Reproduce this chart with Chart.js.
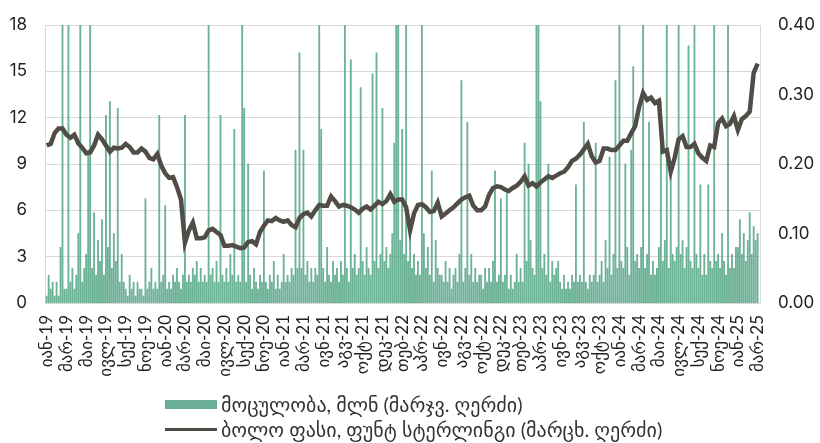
<!DOCTYPE html>
<html>
<head>
<meta charset="utf-8">
<script src="https://cdn.jsdelivr.net/npm/chart.js@4"></script>
<style>
  body { margin: 0; background: #fff; }
  #wrap { position: relative; width: 820px; height: 443px; overflow: hidden; }
  #legend { position: absolute; left: 165px; top: 392px; font: 20px Lato, "DejaVu Sans", sans-serif; color: #333; }
  .row { display: flex; align-items: center; height: 25px; white-space: nowrap; }
  .sw { width: 52px; height: 9px; background: #6aae95; margin-right: 4px; }
  .ln { width: 52px; height: 3px; background: #4f4d46; margin-right: 4px; }
</style>
</head>
<body>
<div id="wrap">
  <canvas id="chart"></canvas>
  <div id="legend"></div>
</div>
<script>
// tick labels, one every 5 price points
const tickLabels = ['იან-19','მარ-19','მაი-19','ივლ-19','სექ-19','ნოე-19','იან-20','მარ-20','მაი-20','ივლ-20','სექ-20','ნოე-20',
  'იან-21','მარ-21','ივნ-21','აგვ-21','ოქტ-21','დეკ-21','თებ-22','აპრ-22','ივნ-22','აგვ-22','ოქტ-22','დეკ-22',
  'თებ-23','აპრ-23','ივნ-23','აგვ-23','ოქტ-23','იან-24','მარ-24','მაი-24','ივლ-24','სექ-24','ნოე-24','იან-25','მარ-25'];
const pointsPerLabel = 5;
const barsPerPoint = 2;

const seriesNames = ['მოცულობა, მლნ (მარჯვ. ღერძი)', 'ბოლო ფასი, ფუნტ სტერლინგი (მარცხ. ღერძი)'];

// closing price, GBP (left axis)
const price = [
  10.2,10.3,11.0,11.3,11.3, 10.9,10.7,10.9,10.35,10.05, 9.7,9.75,10.2,10.9,10.6, 10.2,9.8,10.05,10.0,10.05,
  10.3,10.1,9.75,9.75,10.0, 9.8,9.4,9.3,9.65,8.9, 8.4,8.1,8.15,7.5,6.7, 3.9,4.7,5.2,4.2,4.2,
  4.25,4.7,4.8,4.6,4.4, 3.7,3.7,3.75,3.65,3.55, 3.6,3.95,4.0,3.8,4.6, 5.0,5.35,5.3,5.5,5.35,
  5.25,5.35,5.05,4.9,5.5, 5.75,5.85,5.6,6.0,6.35, 6.3,6.3,6.9,6.6,6.25, 6.35,6.3,6.2,6.05,5.85,
  6.1,6.25,6.05,6.3,6.55, 6.4,6.6,7.05,6.55,6.7, 6.7,6.2,4.7,5.8,6.35, 6.4,6.2,5.9,5.95,6.5,
  5.6,5.8,6.0,6.2,6.45, 6.7,6.85,6.95,6.3,6.0, 6.0,6.25,7.0,7.45,7.55, 7.5,7.35,7.25,7.45,7.6,
  7.85,8.2,7.6,7.75,7.55, 7.8,8.0,8.2,8.1,8.25, 8.4,8.5,8.8,9.2,9.35, 9.6,9.95,10.3,9.5,9.1,
  9.2,10.0,10.0,9.9,9.9, 10.2,10.5,10.5,11.0,11.45, 12.7,13.6,13.15,13.3,12.95, 13.1,9.8,9.9,8.5,9.4,
  10.6,10.8,10.1,10.1,10.3, 9.7,9.4,9.2,10.2,10.1, 11.65,11.95,11.45,11.6,12.1, 11.2,11.9,12.1,12.4,14.9,
  15.5
];

// traded volume, mln (right axis); tallest spikes run past the top of the axis
const volume = [
  0.01,0.04,0.02,0.03,0.01,0.03,0.01,0.08,0.50,0.02,
  0.02,0.50,0.03,0.05,0.02,0.04,0.10,0.50,0.03,0.05,
  0.07,0.22,0.50,0.05,0.13,0.04,0.09,0.06,0.12,0.04,
  0.27,0.08,0.29,0.05,0.10,0.06,0.28,0.03,0.07,0.03,
  0.02,0.01,0.04,0.02,0.03,0.01,0.03,0.02,0.02,0.01,
  0.15,0.02,0.03,0.05,0.02,0.03,0.02,0.27,0.03,0.04,
  0.14,0.02,0.03,0.02,0.04,0.03,0.05,0.03,0.02,0.04,
  0.27,0.03,0.04,0.03,0.05,0.04,0.06,0.03,0.05,0.03,
  0.04,0.03,0.50,0.04,0.05,0.03,0.06,0.03,0.27,0.04,
  0.03,0.05,0.03,0.07,0.04,0.25,0.03,0.04,0.03,0.50,
  0.28,0.03,0.20,0.04,0.02,0.05,0.03,0.02,0.04,0.03,
  0.19,0.03,0.02,0.04,0.03,0.06,0.02,0.04,0.02,0.03,
  0.07,0.03,0.04,0.03,0.05,0.04,0.22,0.05,0.36,0.05,
  0.22,0.04,0.06,0.03,0.05,0.03,0.05,0.04,0.50,0.25,
  0.05,0.03,0.08,0.04,0.03,0.06,0.04,0.05,0.03,0.06,
  0.04,0.50,0.05,0.03,0.35,0.05,0.07,0.04,0.05,0.31,
  0.06,0.04,0.08,0.05,0.04,0.33,0.06,0.36,0.05,0.07,
  0.28,0.06,0.08,0.05,0.07,0.10,0.23,0.50,0.50,0.09,
  0.25,0.07,0.50,0.06,0.10,0.05,0.07,0.04,0.06,0.04,
  0.50,0.10,0.05,0.08,0.04,0.19,0.03,0.09,0.05,0.04,
  0.04,0.03,0.06,0.03,0.05,0.02,0.04,0.05,0.03,0.07,
  0.32,0.03,0.05,0.26,0.04,0.07,0.03,0.05,0.03,0.04,
  0.04,0.02,0.05,0.03,0.05,0.03,0.06,0.19,0.03,0.04,
  0.15,0.03,0.04,0.16,0.02,0.04,0.02,0.03,0.07,0.03,
  0.05,0.03,0.23,0.06,0.20,0.09,0.05,0.04,0.50,0.50,
  0.29,0.05,0.07,0.04,0.20,0.03,0.06,0.04,0.05,0.06,
  0.03,0.02,0.04,0.02,0.03,0.02,0.04,0.03,0.17,0.03,
  0.04,0.03,0.26,0.03,0.02,0.04,0.03,0.04,0.23,0.03,
  0.04,0.06,0.03,0.09,0.05,0.21,0.04,0.07,0.32,0.05,
  0.50,0.06,0.05,0.20,0.08,0.04,0.22,0.34,0.06,0.07,
  0.05,0.08,0.50,0.05,0.07,0.26,0.04,0.06,0.04,0.05,
  0.08,0.29,0.06,0.09,0.50,0.05,0.20,0.07,0.06,0.08,
  0.50,0.07,0.09,0.05,0.08,0.37,0.06,0.05,0.50,0.07,
  0.05,0.17,0.04,0.07,0.04,0.17,0.06,0.05,0.50,0.06,
  0.07,0.05,0.10,0.06,0.04,0.50,0.05,0.07,0.05,0.08,
  0.08,0.12,0.07,0.10,0.06,0.09,0.13,0.07,0.11,0.09,
  0.10
];

const dark = '#4f4d46';
const numFont = 'Inter, "DejaVu Sans", sans-serif';
const labelFont = 'Lato, "DejaVu Sans", sans-serif';

Chart.defaults.color = '#222';

const ctx = document.getElementById('chart').getContext('2d');
new Chart(ctx, {
  data: {
    datasets: [
      {
        type: 'bar',
        label: seriesNames[0],
        data: volume.map((v, i) => ({ x: i / barsPerPoint, y: v })),
        backgroundColor: 'rgba(82,164,133,0.85)',
        barThickness: 1.2,
        yAxisID: 'y1',
        order: 2
      },
      {
        type: 'line',
        label: seriesNames[1],
        data: price.map((v, i) => ({ x: i, y: v })),
        borderColor: dark,
        borderWidth: 4.5,
        pointRadius: 0,
        tension: 0,
        yAxisID: 'y',
        order: 1
      }
    ]
  },
  options: {
    responsive: true,
    maintainAspectRatio: false,
    animation: false,
    layout: { padding: { top: 25, bottom: 50, left: 0, right: 0 } },
    plugins: { legend: { display: false }, tooltip: { enabled: false } },
    scales: {
      x: {
        type: 'linear',
        offset: false,
        min: -0.43,
        max: 180.6,
        grid: { display: false, drawTicks: false, offset: false },
        border: { color: '#d9d9d9' },
        ticks: {
          autoSkip: false, minRotation: 90, maxRotation: 90, padding: 12,
          font: { family: labelFont, size: 17 },
          callback: v => tickLabels[v / pointsPerLabel]
        },
        afterBuildTicks: s => { s.ticks = tickLabels.map((_, i) => ({ value: i * pointsPerLabel })); },
        afterFit: s => { s.height = 90; s.paddingLeft = 0; s.paddingRight = 0; }
      },
      y: {
        position: 'left',
        min: 0, max: 18,
        ticks: { stepSize: 3, padding: 18, font: { family: numFont, size: 17 } },
        grid: { color: '#d9d9d9', drawTicks: false },
        border: { color: '#d9d9d9' },
        afterFit: s => { s.width = 45; s.paddingTop = 0; s.paddingBottom = 0; }
      },
      y1: {
        position: 'right',
        min: 0, max: 0.4,
        ticks: { stepSize: 0.1, padding: 18, font: { family: numFont, size: 17 }, callback: v => v.toFixed(2) },
        grid: { display: false, drawTicks: false },
        border: { color: '#d9d9d9' },
        afterFit: s => { s.width = 60; s.paddingTop = 0; s.paddingBottom = 0; }
      }
    }
  }
});

// legend below the plot, two rows
document.getElementById('legend').innerHTML =
  `<div class="row"><span class="sw"></span>${seriesNames[0]}</div>` +
  `<div class="row"><span class="ln"></span>${seriesNames[1]}</div>`;
</script>
</body>
</html>
